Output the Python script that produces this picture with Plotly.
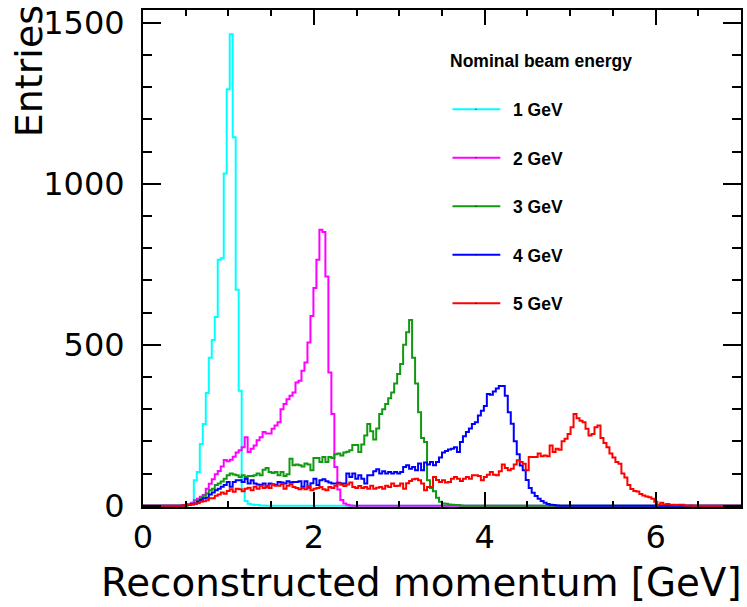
import plotly.graph_objects as go

# Histogram binning: 200 bins of 0.035 GeV covering 0-7 GeV
BIN_WIDTH = 0.035
N_BINS = 200

energy_labels = ["1 GeV", "2 GeV", "3 GeV", "4 GeV", "5 GeV"]
line_colors = ["#00ffff", "#ff00ff", "#129912", "#0000ff", "#ff0000"]

# Bin contents (entries) for each beam energy, starting at the given bin index
first_bin_1gev = 13
counts_1gev = [1, 2, 4, 10, 79, 105, 192, 254, 350, 460, 515, 586, 764, 769,
               1032, 1294, 1465, 1145, 671, 357, 50, 15, 6, 4, 2, 2, 1, 1]

first_bin_2gev = 14
counts_2gev = [2, 4, 8, 17, 22, 28, 33, 53, 68, 82, 98, 108, 122, 142, 138,
               143, 152, 165, 172, 182, 213, 167, 177, 187, 203, 213, 229, 224,
               224, 239, 249, 259, 300, 316, 331, 342, 352, 383, 388, 419, 445,
               507, 589, 676, 764, 857, 850, 712, 414, 285, 120, 50, 18, 7, 3, 1]

first_bin_3gev = 15
counts_3gev = [2, 4, 7, 15, 23, 31, 38, 48, 53, 64, 69, 75, 84, 95, 100, 97,
               95, 89, 95, 89, 92, 92, 95, 100, 95, 112, 117, 105, 102, 105, 95,
               105, 92, 98, 146, 126, 128, 126, 122, 131, 128, 110, 148, 148,
               136, 151, 136, 151, 148, 160, 162, 156, 165, 168, 172, 189, 189,
               167, 190, 218, 254, 231, 206, 240, 285, 300, 316, 334, 352, 380,
               409, 440, 500, 539, 577, 460, 380, 290, 210, 198, 79, 55, 45, 25,
               12, 7, 6, 4, 3, 2, 2, 1]

first_bin_4gev = 13
counts_4gev = [1, 2, 3, 5, 7, 12, 18, 23, 25, 35, 41, 48, 53, 59, 64, 74, 59,
               74, 79, 79, 74, 84, 69, 79, 69, 66, 64, 69, 59, 69, 66, 64, 74,
               72, 69, 76, 72, 74, 74, 76, 59, 76, 56, 70, 84, 64, 79, 82, 76,
               72, 69, 69, 71, 69, 69, 100, 89, 100, 84, 95, 84, 69, 95, 95, 107,
               113, 100, 107, 100, 105, 100, 105, 100, 105, 120, 126, 115, 120,
               110, 131, 110, 134, 128, 136, 126, 136, 150, 165, 170, 175, 177,
               182, 167, 198, 216, 229, 240, 254, 259, 280, 295, 310, 347, 345,
               355, 364, 372, 372, 342, 290, 255, 200, 160, 125, 110, 80, 55, 40,
               30, 22, 15, 9, 5, 3, 2, 1]

first_bin_5gev = 13
counts_5gev = [1, 2, 3, 4, 6, 8, 12, 14, 17, 23, 23, 31, 35, 41, 37, 46, 51,
               43, 53, 51, 45, 53, 56, 48, 59, 53, 62, 55, 62, 55, 67, 62, 62,
               67, 53, 62, 67, 58, 55, 51, 55, 51, 61, 48, 53, 55, 58, 51, 48,
               58, 55, 62, 69, 65, 61, 66, 72, 58, 55, 61, 55, 58, 53, 62, 53,
               56, 58, 53, 62, 58, 69, 61, 62, 69, 53, 70, 77, 82, 84, 79, 69,
               48, 58, 58, 89, 80, 74, 79, 72, 74, 84, 89, 84, 77, 84, 89, 84,
               95, 95, 92, 79, 89, 96, 105, 96, 95, 107, 128, 117, 110, 115, 128,
               141, 136, 130, 110, 151, 151, 151, 162, 154, 156, 154, 187, 167,
               177, 174, 200, 208, 223, 244, 285, 272, 264, 259, 239, 218, 223,
               244, 249, 210, 195, 182, 162, 150, 136, 130, 100, 88, 64, 52, 46,
               44, 36, 32, 29, 26, 22, 12, 3, 9, 4, 5, 3, 3, 2, 3, 3, 1, 1, 1]

series = [
    (first_bin_1gev, counts_1gev),
    (first_bin_2gev, counts_2gev),
    (first_bin_3gev, counts_3gev),
    (first_bin_4gev, counts_4gev),
    (first_bin_5gev, counts_5gev),
]

bin_edges = [i * BIN_WIDTH for i in range(N_BINS + 1)]

fig = go.Figure()
for (first_bin, counts), label, color in zip(series, energy_labels, line_colors):
    contents = [0] * N_BINS
    contents[first_bin:first_bin + len(counts)] = counts
    fig.add_trace(go.Scatter(
        x=bin_edges,
        y=contents + [contents[-1]],
        mode="lines",
        name=label,
        line=dict(color=color, width=2, shape="hv"),
        showlegend=False,
        hoverinfo="skip",
    ))

AXIS_FONT = "DejaVu Sans"

common_axis = dict(
    showline=True, linecolor="black", linewidth=2, mirror="ticks",
    ticks="inside", tickcolor="black", tickwidth=2,
    showgrid=False, zeroline=False,
    tickfont=dict(family=AXIS_FONT, size=32, color="black"),
)

fig.update_layout(
    width=747, height=607,
    margin=dict(l=143, r=4, t=9, b=100, pad=0),
    paper_bgcolor="white", plot_bgcolor="white",
    xaxis=dict(
        range=[0, 7], tick0=0, dtick=2, ticklen=15,
        ticklabelstandoff=1,
        minor=dict(dtick=0.5, ticklen=6, tickwidth=2, tickcolor="black", ticks="inside"),
        **common_axis,
    ),
    yaxis=dict(
        range=[-4, 1540], tick0=0, dtick=500, ticklen=18,
        ticklabelstandoff=10,
        minor=dict(dtick=100, ticklen=9, tickwidth=2, tickcolor="black", ticks="inside"),
        **common_axis,
    ),
)

def px_to_paper_x(px):
    return (px - 143) / 600.0

def px_to_paper_y(py):
    return (507 - py) / 498.0

annotations = [
    dict(text="Reconstructed momentum [GeV]", xref="paper", yref="paper",
         x=px_to_paper_x(746), y=px_to_paper_y(583), xanchor="right", yanchor="middle",
         showarrow=False, font=dict(family=AXIS_FONT, size=38.8, color="black")),
    dict(text="Entries", xref="paper", yref="paper", textangle=-90,
         x=px_to_paper_x(28), y=px_to_paper_y(70), xanchor="center", yanchor="middle",
         showarrow=False, font=dict(family=AXIS_FONT, size=38, color="black")),
    dict(text="<b>Nominal beam energy</b>", xref="paper", yref="paper",
         x=px_to_paper_x(542), y=px_to_paper_y(60), xanchor="center", yanchor="middle",
         showarrow=False, font=dict(family="Liberation Sans, Arial", size=17.5, color="black")),
]

shapes = []
LEGEND_TOP = 108.5
LEGEND_STEP = 48.6
for i, (label, color) in enumerate(zip(energy_labels, line_colors)):
    row_y = LEGEND_TOP + i * LEGEND_STEP
    shapes.append(dict(type="line", xref="paper", yref="paper",
                       x0=px_to_paper_x(453.5), x1=px_to_paper_x(501.5),
                       y0=px_to_paper_y(row_y), y1=px_to_paper_y(row_y),
                       line=dict(color=color, width=2)))
    shapes.append(dict(type="rect", xref="paper", yref="paper",
                       x0=px_to_paper_x(476.5), x1=px_to_paper_x(477.5),
                       y0=px_to_paper_y(row_y - 0.5), y1=px_to_paper_y(row_y + 0.5),
                       line=dict(width=0), fillcolor="black"))
    annotations.append(dict(text="<b>" + label + "</b>", xref="paper", yref="paper",
                            x=px_to_paper_x(512), y=px_to_paper_y(row_y + 1),
                            xanchor="left", yanchor="middle", showarrow=False,
                            font=dict(family="Liberation Sans, Arial", size=17.5, color="black")))

fig.update_layout(annotations=annotations, shapes=shapes)

fig.write_html("out.html")
